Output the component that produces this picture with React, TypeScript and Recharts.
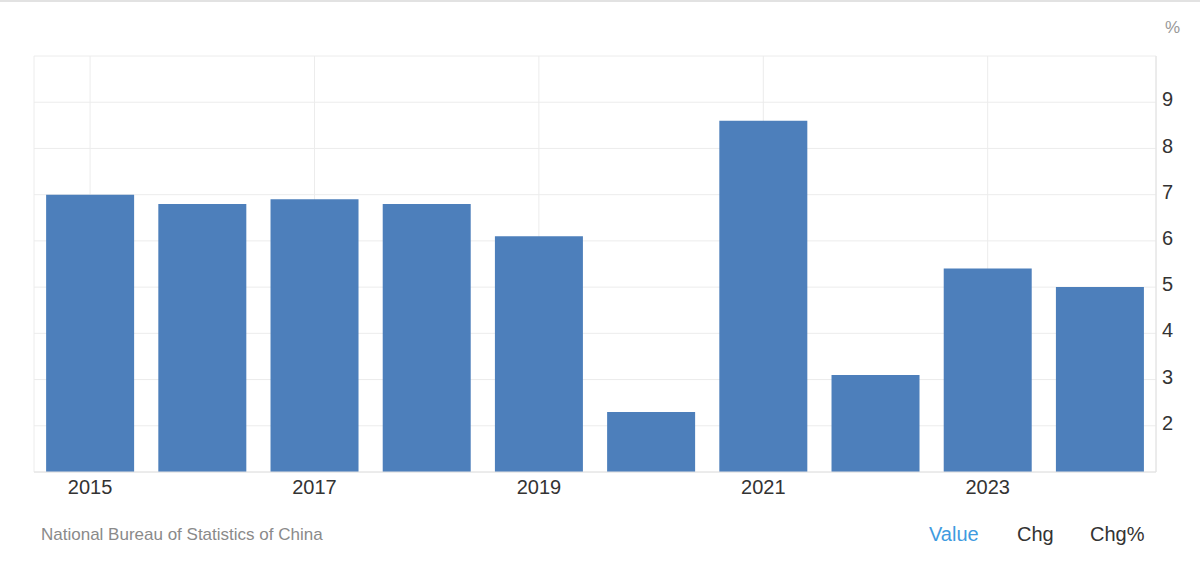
import React from 'react';
import { BarChart, Bar, XAxis, YAxis, CartesianGrid } from 'recharts';

const years = ['2015', '2016', '2017', '2018', '2019', '2020', '2021', '2022', '2023', '2024'];
const growth = [7.0, 6.8, 6.9, 6.8, 6.1, 2.3, 8.6, 3.1, 5.4, 5.0];
const xTicks = ['2015', '2017', '2019', '2021', '2023'];
const yTicks = [1, 2, 3, 4, 5, 6, 7, 8, 9, 10];
const legendItems = ['Value', 'Chg', 'Chg%'];
const sourceText = 'National Bureau of Statistics of China';
const unitLabel = '%';

const data = years.map((y, i) => ({ year: y, value: growth[i] }));

const FONT = '"Liberation Sans", Arial, Helvetica, sans-serif';

export default function App() {
  return (
    <div
      style={{
        position: 'absolute',
        left: 0,
        top: 0,
        width: 1200,
        height: 576,
        background: '#fff',
        fontFamily: FONT,
        overflow: 'hidden',
      }}
    >
      <div style={{ position: 'absolute', left: 0, top: 0, width: 1200, height: 0, borderTop: '2px solid #e2e2e2' }} />
      <BarChart
        width={1200}
        height={576}
        data={data}
        margin={{ top: 56, right: 0, left: 34, bottom: 74 }}
        barCategoryGap="10.8%"
      >
        <CartesianGrid stroke="#ececec" strokeWidth={1} />
        <XAxis
          dataKey="year"
          ticks={xTicks}
          interval={0}
          height={30}
          axisLine={{ stroke: '#e2e2e2' }}
          tickLine={false}
          tickMargin={2}
          tick={{ fill: '#333', fontSize: 20, fontFamily: FONT }}
        />
        <YAxis
          orientation="right"
          width={44}
          domain={[1, 10]}
          ticks={yTicks}
          interval={0}
          axisLine={{ stroke: '#e2e2e2' }}
          tickLine={false}
          tickMargin={0}
          tickFormatter={(v: number) => (v === 1 || v === 10 ? '' : String(v))}
          tick={{ fill: '#333', fontSize: 20, fontFamily: FONT, dy: -3 }}
        />
        <Bar dataKey="value" fill="#4d7fbb" isAnimationActive={false} />
      </BarChart>
      <div
        style={{
          position: 'absolute',
          left: 1165,
          top: 18,
          fontSize: 17,
          color: '#999',
        }}
      >
        {unitLabel}
      </div>
      <div
        style={{
          position: 'absolute',
          left: 41,
          top: 525,
          fontSize: 17,
          color: '#8a8a8a',
        }}
      >
        {sourceText}
      </div>
      <div style={{ position: 'absolute', left: 929, top: 523, fontSize: 20, color: '#3f9be0' }}>{legendItems[0]}</div>
      <div style={{ position: 'absolute', left: 1017, top: 523, fontSize: 20, color: '#333' }}>{legendItems[1]}</div>
      <div style={{ position: 'absolute', left: 1090, top: 523, fontSize: 20, color: '#333' }}>{legendItems[2]}</div>
    </div>
  );
}
